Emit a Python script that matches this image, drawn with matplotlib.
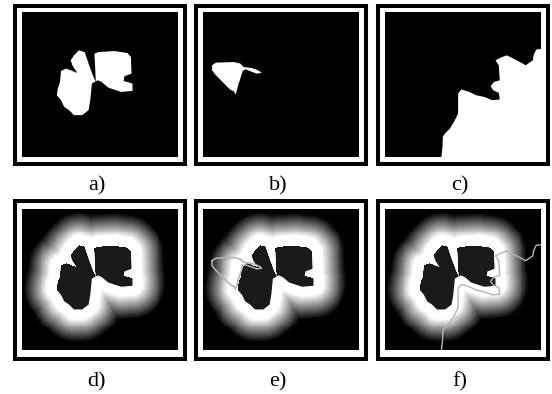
import numpy as np
import matplotlib
matplotlib.use("Agg")
import matplotlib.pyplot as plt
from matplotlib.patches import Polygon, Rectangle
from matplotlib.path import Path

# image grid (pixels) of each panel
W, H = 160, 145

# outline of the object in a) (image pixel coords)
shape_a = [(58.3, 38), (64.3, 39.7), (68.3, 51.3), (73.3, 64.7), (75.7, 69.7), (75, 54.7),
           (74.3, 41.3), (78.3, 39.7), (95, 38.7), (108.3, 40.7), (111.7, 44.7), (112.3, 61.3),
           (105, 64), (104.3, 68.7), (113.3, 71.3), (113.3, 78.7), (101.7, 79.7), (88.3, 75.3),
           (81.7, 69.7), (77.7, 68), (71.7, 71.3), (70, 88), (68.3, 98), (61.7, 103),
           (53.3, 103), (48.3, 98), (43.3, 94.7), (40, 88), (35.7, 83), (36.7, 76.3),
           (39, 69.7), (40, 58.7), (45, 56.3), (50, 58), (56.7, 60.7), (51.7, 53), (50, 48),
           (53.3, 43)]

# outline of the object in b)
shape_b = [(9.3, 53), (13.3, 50.3), (31.7, 49.7), (38.3, 51.3), (41.7, 54.7), (50, 55.7),
           (54, 57), (58.3, 59), (60, 60.7), (55, 61.3), (50.7, 59.7), (43.3, 57),
           (40.7, 58.7), (38.3, 66.3), (36, 73), (34.3, 79.7), (33.3, 82.3), (31.7, 79),
           (28.3, 77.7), (25, 74.7), (20, 69.7), (15, 64.7), (11.7, 61.3), (9.3, 58)]

# boundary of the region in c) (from right edge to bottom edge)
edge_c = [(161, 36.3), (155, 37.3), (152.3, 43), (151.7, 48), (146.7, 51.3), (144.3, 53),
          (138.3, 49.7), (131.7, 46.3), (125, 43), (120, 44.7), (113.3, 48), (116.7, 53),
          (117.7, 68), (111.7, 69.7), (108.3, 74), (111, 78), (116.7, 80.7), (117.7, 87.3),
          (110, 88), (101.7, 84.7), (93.3, 83), (86.7, 79.7), (78.3, 77.3), (75, 81.3),
          (75, 101.3), (71.7, 108), (66.7, 116.3), (61.7, 121.3), (59.3, 124.7), (59, 134.7),
          (57.7, 146)]

labels = ["a)", "b)", "c)", "d)", "e)", "f)"]

FW, FH = 552, 394
frame_x = [13, 194, 376]
frame_y = [4, 199]
frame_w, frame_h = 174, 162
label_y = [186, 382]


def fig_rect(x, y, w, h):
    return [x / FW, 1 - (y + h) / FH, w / FW, h / FH]


def seg_dist(px, py, poly):
    # distance from points to the polygon outline
    pts = np.asarray(poly + [poly[0]])
    d = np.full(px.shape, np.inf)
    for (x0, y0), (x1, y1) in zip(pts[:-1], pts[1:]):
        vx, vy = x1 - x0, y1 - y0
        t = ((px - x0) * vx + (py - y0) * vy) / (vx * vx + vy * vy)
        t = np.clip(t, 0, 1)
        d = np.minimum(d, np.hypot(px - x0 - t * vx, py - y0 - t * vy))
    return d


# glow image around object a)
gx, gy = np.meshgrid(np.arange(W) + 0.5, np.arange(H) + 0.5)
inside = Path(shape_a).contains_points(np.c_[gx.ravel(), gy.ravel()]).reshape(gx.shape)
dist = seg_dist(gx, gy, shape_a)
glow = np.clip((34 - dist) / 24, 0, 1)
glow[inside] = 0.1

fig = plt.figure(figsize=(FW / 100, FH / 100), dpi=100)

for k in range(6):
    row, col = divmod(k, 3)
    x0, y0 = frame_x[col], frame_y[row]
    # double frame: thick black border, white gap, then the image
    r = fig_rect(x0 + 2, y0 + 2, frame_w - 4, frame_h - 4)
    fig.patches.append(Rectangle((r[0], r[1]), r[2], r[3], transform=fig.transFigure,
                                 fill=False, ec="black", lw=2.9))
    ax = fig.add_axes(fig_rect(x0 + 9, y0 + 8.5, frame_w - 18, frame_h - 17.5))
    ax.set_facecolor("black")
    ax.set_xticks([])
    ax.set_yticks([])
    for s in ax.spines.values():
        s.set_visible(False)

    if k == 0:
        ax.add_patch(Polygon(shape_a, closed=True, fc="white", ec="none"))
    elif k == 1:
        ax.add_patch(Polygon(shape_b, closed=True, fc="white", ec="none"))
    elif k == 2:
        region = edge_c + [(W + 2, H + 2), (W + 2, edge_c[0][1])]
        ax.add_patch(Polygon(region, closed=True, fc="white", ec="none"))
    else:
        ax.imshow(glow, cmap="gray", vmin=0, vmax=1, extent=(0, W, H, 0), interpolation="nearest")
        if k == 4:
            bx, by = zip(*(shape_b + [shape_b[0]]))
            ax.plot(bx, by, color="#9a9a9a", lw=1.1)
            ax.plot(bx, by, color="#d8d8d8", lw=0.4)
        elif k == 5:
            cx, cy = zip(*edge_c)
            ax.plot(cx, cy, color="#b4b4b4", lw=1.0)
        ax.add_patch(Polygon(shape_a, closed=True, fc="#1a1a1a", ec="none"))
    ax.set_xlim(0, W)
    ax.set_ylim(H, 0)

    fig.text((x0 + frame_w / 2 - 3) / FW, 1 - label_y[row] / FH, labels[k],
             ha="center", va="center", fontsize=16, family="Liberation Serif")

fig.savefig("out.png", dpi=100, facecolor="white")
